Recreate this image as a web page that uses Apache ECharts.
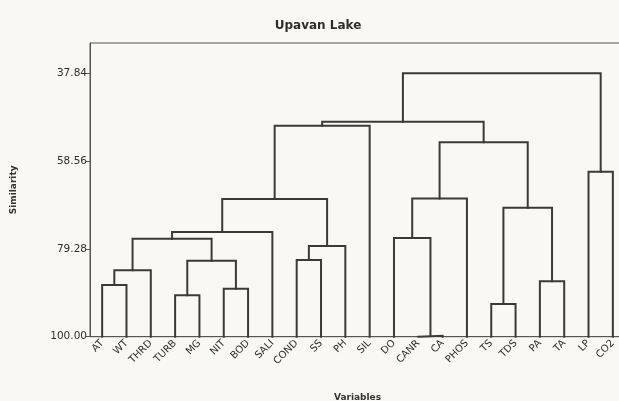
<!DOCTYPE html>
<html>
<head>
<meta charset="utf-8">
<script src="https://cdn.jsdelivr.net/npm/echarts@6/dist/echarts.min.js"></script>
<style>
html,body{margin:0;padding:0;background:#f9f8f4;}
#chart{width:619px;height:401px;}
</style>
</head>
<body>
<div id="chart"></div>
<script>
// Leaf order (x-axis categories)
const categories = ['AT','WT','THRD','TURB','MG','NIT','BOD','SALI','COND','SS','PH','SIL','DO','CANR','CA','PHOS','TS','TDS','PA','TA','LP','CO2'];
// Merge steps: cluster containing A joins cluster containing B at similarity level
const mergeA = ['CANR','TS','TURB','NIT','AT','PA','AT','TURB','COND','COND','AT','DO','AT','TS','AT','DO','LP','DO','AT','AT','AT'];
const mergeB = ['CA','TDS','MG','BOD','WT','TA','THRD','NIT','SS','PH','TURB','CANR','SALI','PA','COND','PHOS','CO2','TS','SIL','DO','LP'];
const mergeLevel = [99.8,92.3,90.2,88.7,87.8,86.9,84.3,82.1,81.9,78.6,76.9,76.7,75.3,69.6,67.5,67.4,61.1,54.1,50.2,49.3,37.84];
// Y tick labels
const yTicks = [37.84, 58.56, 79.28, 100.00];

// Build dendrogram links
const owner = {};
categories.forEach((c, i) => { owner[c] = {x: i, h: 100, members: [c]}; });
const series = [];
for (let k = 0; k < mergeA.length; k++) {
  const a = owner[mergeA[k]], b = owner[mergeB[k]], h = mergeLevel[k];
  series.push({
    type: 'line', xAxisIndex: 1, yAxisIndex: 0,
    data: [[a.x, a.h], [a.x, h], [b.x, h], [b.x, b.h]],
    symbol: 'none', silent: true, animation: false, clip: false,
    lineStyle: {color: '#3a3a3a', width: 2, cap: 'square', join: 'miter'}
  });
  const merged = {x: (a.x + b.x) / 2, h: h, members: a.members.concat(b.members)};
  merged.members.forEach(m => { owner[m] = merged; });
}

const chart = echarts.init(document.getElementById('chart'), null, {renderer: 'canvas'});
chart.setOption({
  backgroundColor: '#f9f8f4',
  animation: false,
  title: {
    text: 'Upavan Lake', left: 313, top: 15, textAlign: 'center',
    textStyle: {fontFamily: 'DejaVu Sans', fontWeight: 'bold', fontSize: 12, color: '#2e2e2e'}
  },
  grid: {left: 90, top: 43, width: 535, bottom: 64.3, outerBoundsMode: 'none', containLabel: false,
    show: true, borderColor: '#555', borderWidth: 1, backgroundColor: 'transparent'},
  xAxis: [
    {
      type: 'category', data: categories, position: 'bottom', boundaryGap: true,
      name: 'Variables', nameLocation: 'middle', nameGap: 56,
      nameTextStyle: {fontFamily: 'DejaVu Sans', fontWeight: 'bold', fontSize: 9, color: '#333'},
      axisLine: {lineStyle: {color: '#555', width: 1}},
      axisTick: {alignWithLabel: true, length: 4, lineStyle: {color: '#555'}},
      axisLabel: {rotate: 45, interval: 0, margin: 5, fontFamily: 'DejaVu Sans', fontSize: 10, color: '#2e2e2e'},
      splitLine: {show: false}
    },
    {type: 'value', min: -0.5, max: 21.5, show: false}
  ],
  yAxis: {
    type: 'value', inverse: true, min: 30.7, max: 100,
    name: 'Similarity', nameLocation: 'middle', nameGap: 72, nameRotate: 90,
    nameTextStyle: {fontFamily: 'DejaVu Sans', fontWeight: 'bold', fontSize: 9, color: '#333'},
    axisLine: {show: true, onZero: false, lineStyle: {color: '#555', width: 1}},
    axisTick: {show: true, length: 4, customValues: yTicks, lineStyle: {color: '#555'}},
    axisLabel: {customValues: yTicks, margin: 3, fontFamily: 'DejaVu Sans', fontSize: 10.5, color: '#2e2e2e',
      formatter: v => Number(v).toFixed(2)},
    splitLine: {show: false}
  },
  series: series
});
</script>
</body>
</html>
